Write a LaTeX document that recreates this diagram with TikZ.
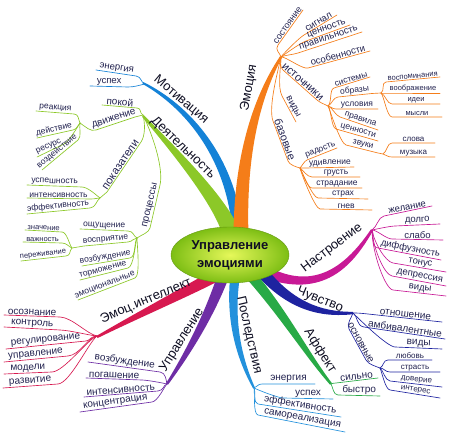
\documentclass[tikz,border=0pt]{standalone}
\usepackage{fontspec}
\setmainfont{Liberation Sans}
\usetikzlibrary{calc,shapes.geometric}
\definecolor{txt}{RGB}{35,35,80}
\definecolor{mtxt}{RGB}{15,15,35}
\definecolor{cMot}{RGB}{20,130,215}
\definecolor{cDey}{RGB}{140,200,40}
\definecolor{cEmo}{RGB}{245,125,25}
\definecolor{cNas}{RGB}{200,25,150}
\definecolor{cChu}{RGB}{30,35,160}
\definecolor{cAff}{RGB}{40,170,70}
\definecolor{cPos}{RGB}{35,145,220}
\definecolor{cInt}{RGB}{215,25,80}
\definecolor{cUpr}{RGB}{110,45,165}
\definecolor{ellIn}{RGB}{230,248,90}
\definecolor{ellOut}{RGB}{125,190,20}
\newcommand\mmhb{8pt}
\newcommand\mmfs{\fontsize{9}{10}\selectfont}
\newcommand\mmleaf[7]{%
  \draw[leaf,#1] (#2) .. controls +(#3) and ($(#4)!-\mmhb!(#5)$) .. (#4) -- (#5)
    node[midway,sloped,above,lbl] (#6) {#7};}
\newcommand\mmband[7]{%
  \pgfmathsetmacro\mmwa{0.8*#6+0.2*#7}%
  \pgfmathsetmacro\mmwb{0.35*#6+0.65*#7}%
  \fill[#1] ($(#2)!#6pt!90:(#3)$) .. controls ($(#3)!\mmwa pt!90:(#4)$) and ($(#4)!\mmwb pt!90:(#5)$) .. ($(#5)!#7pt!-90:(#4)$)
    -- ($(#5)!#7pt!90:(#4)$) .. controls ($(#4)!\mmwb pt!-90:(#5)$) and ($(#3)!\mmwa pt!-90:(#4)$) .. ($(#2)!#6pt!-90:(#3)$) -- cycle;}
\tikzset{
  leaf/.style={line width=0.65pt,line cap=round},
  lbl/.style={font=\mmfs,text=txt,inner sep=0.6pt},
  mainlbl/.style={font=\fontsize{13}{15}\selectfont,text=mtxt,inner sep=0pt},
}
\begin{document}
\begin{tikzpicture}[x=1pt,y=-1pt]
\fill[white] (0,0) rectangle (450,435);
\useasboundingbox (0,0) rectangle (450,435);

% ---------- main bands ----------
\mmband{cMot}{238,235}{232,160}{190,108}{143,83}{5.5}{1}
\mmband{cDey}{232,235}{222,205}{186,163}{143,116}{9}{1.2}
\mmband{cEmo}{241,235}{240,160}{255,100}{281,57}{7.5}{1.2}
\mmband{cNas}{265,272}{320,296}{350,265}{372,230}{6}{1.2}
\mmband{cChu}{262,272}{290,305}{320,315}{353,313}{6}{1.2}
\mmband{cAff}{248,272}{285,315}{305,352}{331,384}{5.5}{1.2}
\mmband{cPos}{236,270}{228,320}{240,360}{254,388}{5}{1}
\mmband{cInt}{222,272}{190,290}{140,314}{97,337}{6.5}{1.2}
\mmband{cUpr}{226,268}{212,310}{190,350}{167,384}{6}{1.2}

% ---------- junctions ----------
\coordinate (jMot) at (145,84);
\coordinate (jDey) at (143,115);
\coordinate (jDv) at (80,123);
\coordinate (jPk) at (100,198);
\coordinate (jPr) at (137,238);
\coordinate (jVs) at (72,248);
\coordinate (jEmo) at (281,57);
\coordinate (jIs) at (328,106);
\coordinate (jOb) at (381,93);
\coordinate (jZv) at (383,154);
\coordinate (jBa) at (300,168);
\coordinate (jNas) at (372,230);
\coordinate (jChu) at (353,313);
\coordinate (jOsn) at (380,368);
\coordinate (jAff) at (331,384);
\coordinate (jPos) at (254,388);
\coordinate (jInt) at (97,336);
\coordinate (jUpr) at (167,384);

% ---------- Мотивация ----------
\renewcommand\mmhb{6pt}\renewcommand\mmfs{\fontsize{9.5}{11}\selectfont}
\mmleaf{cMot}{jMot}{-5,-2}{136,76}{96,70}{mEn}{энергия}
\mmleaf{cMot}{jMot}{-5,1}{128,87}{90,86}{mUs}{успех}

% ---------- Деятельность ----------
\renewcommand\mmhb{5pt}\renewcommand\mmfs{\fontsize{10}{11}\selectfont}
\mmleaf{cDey}{jDey}{-4,-2}{137,108}{102,105}{dPok}{покой}
\draw[leaf,cDey] (jDey) .. controls +(-4,1) and ($(135,117)!-5pt!(96,130)$) .. (135,117) -- (96,130)
   node[midway,sloped,above,lbl] (dDv) {движение}
   .. controls ($(96,130)!-6pt!(135,117)$) and +(6,4) .. (jDv);
\renewcommand\mmfs{\fontsize{8.5}{10}\selectfont}
\mmleaf{cDey}{jDv}{-2,-4}{74,114}{36,111}{dRe}{реакция}
\mmleaf{cDey}{jDv}{-3,2}{73,130}{37,138}{dDe}{действие}
\mmleaf{cDey}{jDv}{-3,5}{64,144}{37,157}{dRs}{ресурс}
\mmleaf{cDey}{jDv}{-1,5}{78,140}{42,170}{dVo}{воздействие}
\draw[leaf,cDey] (jDey) .. controls +(2,8) and ($(141,142)!-8pt!(107,192)$) .. (141,142) -- (107,192)
   node[midway,sloped,above,lbl,font=\fontsize{11}{12}\selectfont] (dPk) {показатели} -- (jPk);
\renewcommand\mmhb{6pt}
\mmleaf{cDey}{jPk}{-4,-3}{82,187}{27,185}{dUs}{успешность}
\mmleaf{cDey}{jPk}{-4,0}{90,199}{27,198}{dIn}{интенсивность}
\mmleaf{cDey}{jPk}{-4,3}{90,208}{27,214}{dEf}{эффективность}
\draw[leaf,cDey] (jDey) .. controls +(12,25) and ($(160,185)!-15pt!(150,228)$) .. (160,185) -- (150,228)
   node[midway,sloped,above,lbl,font=\fontsize{10}{11}\selectfont] (dPr) {процессы}
   .. controls ($(150,228)!-5pt!(160,185)$) and +(4,-3) .. (jPr);
\mmleaf{cDey}{jPr}{-4,-2}{128,231}{80,229}{dOs}{ощущение}
\draw[leaf,cDey] (jPr) .. controls +(-4,0) and ($(128,242)!-5pt!(84,246)$) .. (128,242) -- (84,246)
   node[midway,sloped,above,lbl] (dVs) {восприятие} -- (jVs);
\mmleaf{cDey}{jPr}{-3,4}{130,258}{82,266}{dVz}{возбуждение}
\mmleaf{cDey}{jPr}{-2,6}{128,268}{80,280}{dTo}{торможение}
\mmleaf{cDey}{jPr}{0,6}{135,278}{78,300}{dEm}{эмоциональные}
\renewcommand\mmhb{5pt}\renewcommand\mmfs{\fontsize{7.5}{9}\selectfont}
\mmleaf{cDey}{jVs}{-3,-4}{62,232}{25,230}{dZn}{значение}
\mmleaf{cDey}{jVs}{-3,-1}{62,243}{23,242}{dVa}{важность}
\mmleaf{cDey}{jVs}{-3,3}{66,256}{21,261}{dPe}{переживание}

% ---------- Эмоция ----------
\renewcommand\mmhb{6pt}\renewcommand\mmfs{\fontsize{9}{10}\selectfont}
\mmleaf{cEmo}{jEmo}{-1,-4}{278,45}{303,10}{eSo}{состояние}
\renewcommand\mmfs{\fontsize{9.5}{11}\selectfont}
\mmleaf{cEmo}{jEmo}{3,-4}{304,35}{337,15}{eSi}{сигнал}
\mmleaf{cEmo}{jEmo}{4,-3}{306,41}{350,25}{eCe}{ценность}
\mmleaf{cEmo}{jEmo}{4,-2}{298,53}{362,32}{ePr}{правильность}
\mmleaf{cEmo}{jEmo}{4,-1}{308,68}{370,51}{eOs}{особенности}
\draw[leaf,cEmo] (jEmo) .. controls +(0,4) and ($(283,70)!-5pt!(317,100)$) .. (283,70) -- (317,100)
   node[midway,sloped,above,lbl,font=\fontsize{11}{12}\selectfont] (eIs) {источники}
   .. controls ($(317,100)!-4pt!(283,70)$) and +(-4,-2) .. (jIs);
\renewcommand\mmhb{5pt}\renewcommand\mmfs{\fontsize{8.5}{10}\selectfont}
\mmleaf{cEmo}{jIs}{4,-3}{334,88}{370,77}{eSy}{системы}
\draw[leaf,cEmo] (jIs) .. controls +(4,-2) and ($(338,97)!-5pt!(372,93.5)$) .. (338,97) -- (372,93.5)
   node[midway,sloped,above,lbl] (eOb) {образы} -- (jOb);
\mmleaf{cEmo}{jIs}{4,0}{336,109}{378,109}{eUs}{условия}
\mmleaf{cEmo}{jIs}{4,1}{340,117}{378,130}{ePv}{правила}
\mmleaf{cEmo}{jIs}{3,2}{336,129}{378,141}{eCn}{ценности}
\draw[leaf,cEmo] (jIs) .. controls +(2,4) and ($(346,145)!-6pt!(378,153)$) .. (346,145) -- (378,153)
   node[midway,sloped,above,lbl] (eZv) {звуки} -- (jZv);
\renewcommand\mmfs{\fontsize{7.5}{9}\selectfont}
\mmleaf{cEmo}{jOb}{4,-2}{386,82}{440,77}{eVs}{воспоминания}
\mmleaf{cEmo}{jOb}{4,0}{386,93}{440,93}{eVb}{воображение}
\mmleaf{cEmo}{jOb}{4,1}{392,104}{440,104}{eId}{идеи}
\mmleaf{cEmo}{jOb}{3,3}{392,117}{442,117}{eMy}{мысли}
\renewcommand\mmfs{\fontsize{8}{9}\selectfont}
\mmleaf{cEmo}{jZv}{4,-2}{392,143}{435,143}{eSl}{слова}
\mmleaf{cEmo}{jZv}{4,1}{392,157}{435,157}{eMu}{музыка}
\renewcommand\mmhb{10pt}\renewcommand\mmfs{\fontsize{9.5}{11}\selectfont}
\mmleaf{cEmo}{jEmo}{0,8}{282,96}{296,122}{eVi}{виды}
\draw[leaf,cEmo] (jEmo) .. controls +(-2,10) and ($(273,121)!-15pt!(288,161)$) .. (273,121) -- (288,161)
   node[midway,sloped,above,lbl,font=\fontsize{11}{12}\selectfont] (eBa) {базовые}
   .. controls ($(288,161)!-4pt!(273,121)$) and +(-4,-1) .. (jBa);
\renewcommand\mmhb{3pt}\renewcommand\mmfs{\fontsize{8.5}{10}\selectfont}
\mmleaf{cEmo}{jBa}{2,-2}{307,160}{337,148}{eRa}{радость}
\renewcommand\mmhb{5pt}
\mmleaf{cEmo}{jBa}{3,0}{306,168}{354,167}{eUd}{удивление}
\mmleaf{cEmo}{jBa}{3,2}{312,177}{360,177}{eGr}{грусть}
\mmleaf{cEmo}{jBa}{2,3}{312,188}{362,188}{eSt}{страдание}
\mmleaf{cEmo}{jBa}{2,4}{318,198}{368,199}{eSr}{страх}
\mmleaf{cEmo}{jBa}{1,5}{320,209}{372,210}{eGn}{гнев}

% ---------- Настроение ----------
\renewcommand\mmhb{6pt}\renewcommand\mmfs{\fontsize{9.5}{11}\selectfont}
\mmleaf{cNas}{jNas}{5,-3}{384,216}{432,206}{nZh}{желание}
\mmleaf{cNas}{jNas}{5,-1}{395,226}{440,224}{nDo}{долго}
\mmleaf{cNas}{jNas}{5,0}{392,239}{443,240}{nSl}{слабо}
\renewcommand\mmhb{8pt}
\mmleaf{cNas}{jNas}{3,6}{378,248}{441,260}{nDi}{диффузность}
\mmleaf{cNas}{jNas}{2,12}{393,263}{446,272}{nTo}{тонус}
\mmleaf{cNas}{jNas}{1,18}{392,276}{446,286}{nDe}{депрессия}
\mmleaf{cNas}{jNas}{0,22}{393,290}{446,296}{nVi}{виды}

% ---------- Чувство ----------
\renewcommand\mmhb{8pt}\renewcommand\mmfs{\fontsize{10}{11}\selectfont}
\mmleaf{cChu}{jChu}{5,0}{368,314}{442,322}{chOt}{отношение}
\mmleaf{cChu}{jChu}{5,3}{364,327}{445,339}{chAm}{амбивалентные}
\mmleaf{cChu}{jChu}{6,6}{395,347}{442,349}{chVi}{виды}
\draw[leaf,cChu] (jChu) .. controls +(-1,4) and ($(349,329)!-6pt!(366,360)$) .. (349,329) -- (366,360)
   node[midway,sloped,above,lbl] (chOs) {основные}
   .. controls ($(366,360)!-5pt!(349,329)$) and +(-5,-2) .. (jOsn);
\renewcommand\mmhb{5pt}\renewcommand\mmfs{\fontsize{8}{9}\selectfont}
\mmleaf{cChu}{jOsn}{4,-2}{388,360}{432,360}{chLu}{любовь}
\mmleaf{cChu}{jOsn}{4,0}{390,372}{440,372}{chSt}{страсть}
\mmleaf{cChu}{jOsn}{3,2}{390,381}{442,387}{chDo}{доверие}
\mmleaf{cChu}{jOsn}{2,4}{390,390}{440,398}{chIn}{интерес}

% ---------- Аффект ----------
\renewcommand\mmhb{5pt}\renewcommand\mmfs{\fontsize{10}{11}\selectfont}
\mmleaf{cAff}{jAff}{3,-1}{336,383}{378,378}{aSi}{сильно}
\mmleaf{cAff}{jAff}{2,3}{338,395}{380,396}{aBy}{быстро}

% ---------- Последствия ----------
\mmleaf{cPos}{jPos}{4,-1}{262,384}{315,384}{pEn}{энергия}
\mmleaf{cPos}{jPos}{4,2}{283,398}{333,399}{pUs}{успех}
\mmleaf{cPos}{jPos}{2,4}{258,404}{341,417}{pEf}{эффективность}
\mmleaf{cPos}{jPos}{1,6}{258,415}{345,432}{pSa}{самореализация}

% ---------- Эмоц.интеллект ----------
\renewcommand\mmhb{12pt}
\mmleaf{cInt}{jInt}{-10,-2}{60,317}{4,315}{iOs}{осознание}
\mmleaf{cInt}{jInt}{-10,-1}{60,330}{4,327}{iKo}{контроль}
\renewcommand\mmhb{4pt}
\mmleaf{cInt}{jInt}{-6,0}{86,341}{6,349}{iRe}{регулирование}
\renewcommand\mmhb{12pt}
\mmleaf{cInt}{jInt}{-10,2}{68,356}{4,362}{iUp}{управление}
\mmleaf{cInt}{jInt}{-10,4}{52,372}{4,374}{iMo}{модели}
\mmleaf{cInt}{jInt}{-8,6}{58,384}{3,388}{iRa}{развитие}

% ---------- Управление ----------
\renewcommand\mmhb{6pt}
\mmleaf{cUpr}{jUpr}{-1,-4}{160,372}{88,362}{uVo}{возбуждение}
\mmleaf{cUpr}{jUpr}{-4,-1}{142,380}{86,378}{uPo}{погашение}
\mmleaf{cUpr}{jUpr}{-4,1}{158,391}{84,397}{uIn}{интенсивность}
\mmleaf{cUpr}{jUpr}{-3,3}{152,402}{80,412}{uKo}{концентрация}

% ---------- main labels ----------
\node[mainlbl,rotate=-40] (lMot) at (181,100) {Мотивация};
\node[mainlbl,rotate=-44] (lDey) at (183,148) {Деятельность};
\node[mainlbl,rotate=80] (lEmo) at (249,88) {Эмоция};
\node[mainlbl,rotate=37] (lNas) at (332,248) {Настроение};
\node[mainlbl,rotate=-22] (lChu) at (320,300) {Чувство};
\node[mainlbl,rotate=-58] (lAff) at (320,351) {Аффект};
\node[mainlbl,rotate=-77] (lPos) at (249,335) {Последствия};
\node[mainlbl,rotate=23] (lInt) at (146,301) {Эмоц.интеллект};
\node[mainlbl,rotate=58] (lUpr) at (182,340) {Управление};

% ---------- centre ----------
\node[ellipse,minimum width=118pt,minimum height=56pt,inner sep=0pt,
      inner color=ellIn,outer color=ellOut,draw=ellOut!80!black,line width=0.4pt,
      align=center,font=\bfseries\fontsize{13}{18}\selectfont,text=mtxt] (ctr) at (230,255)
      {Управление\\эмоциями};
\end{tikzpicture}
\end{document}
